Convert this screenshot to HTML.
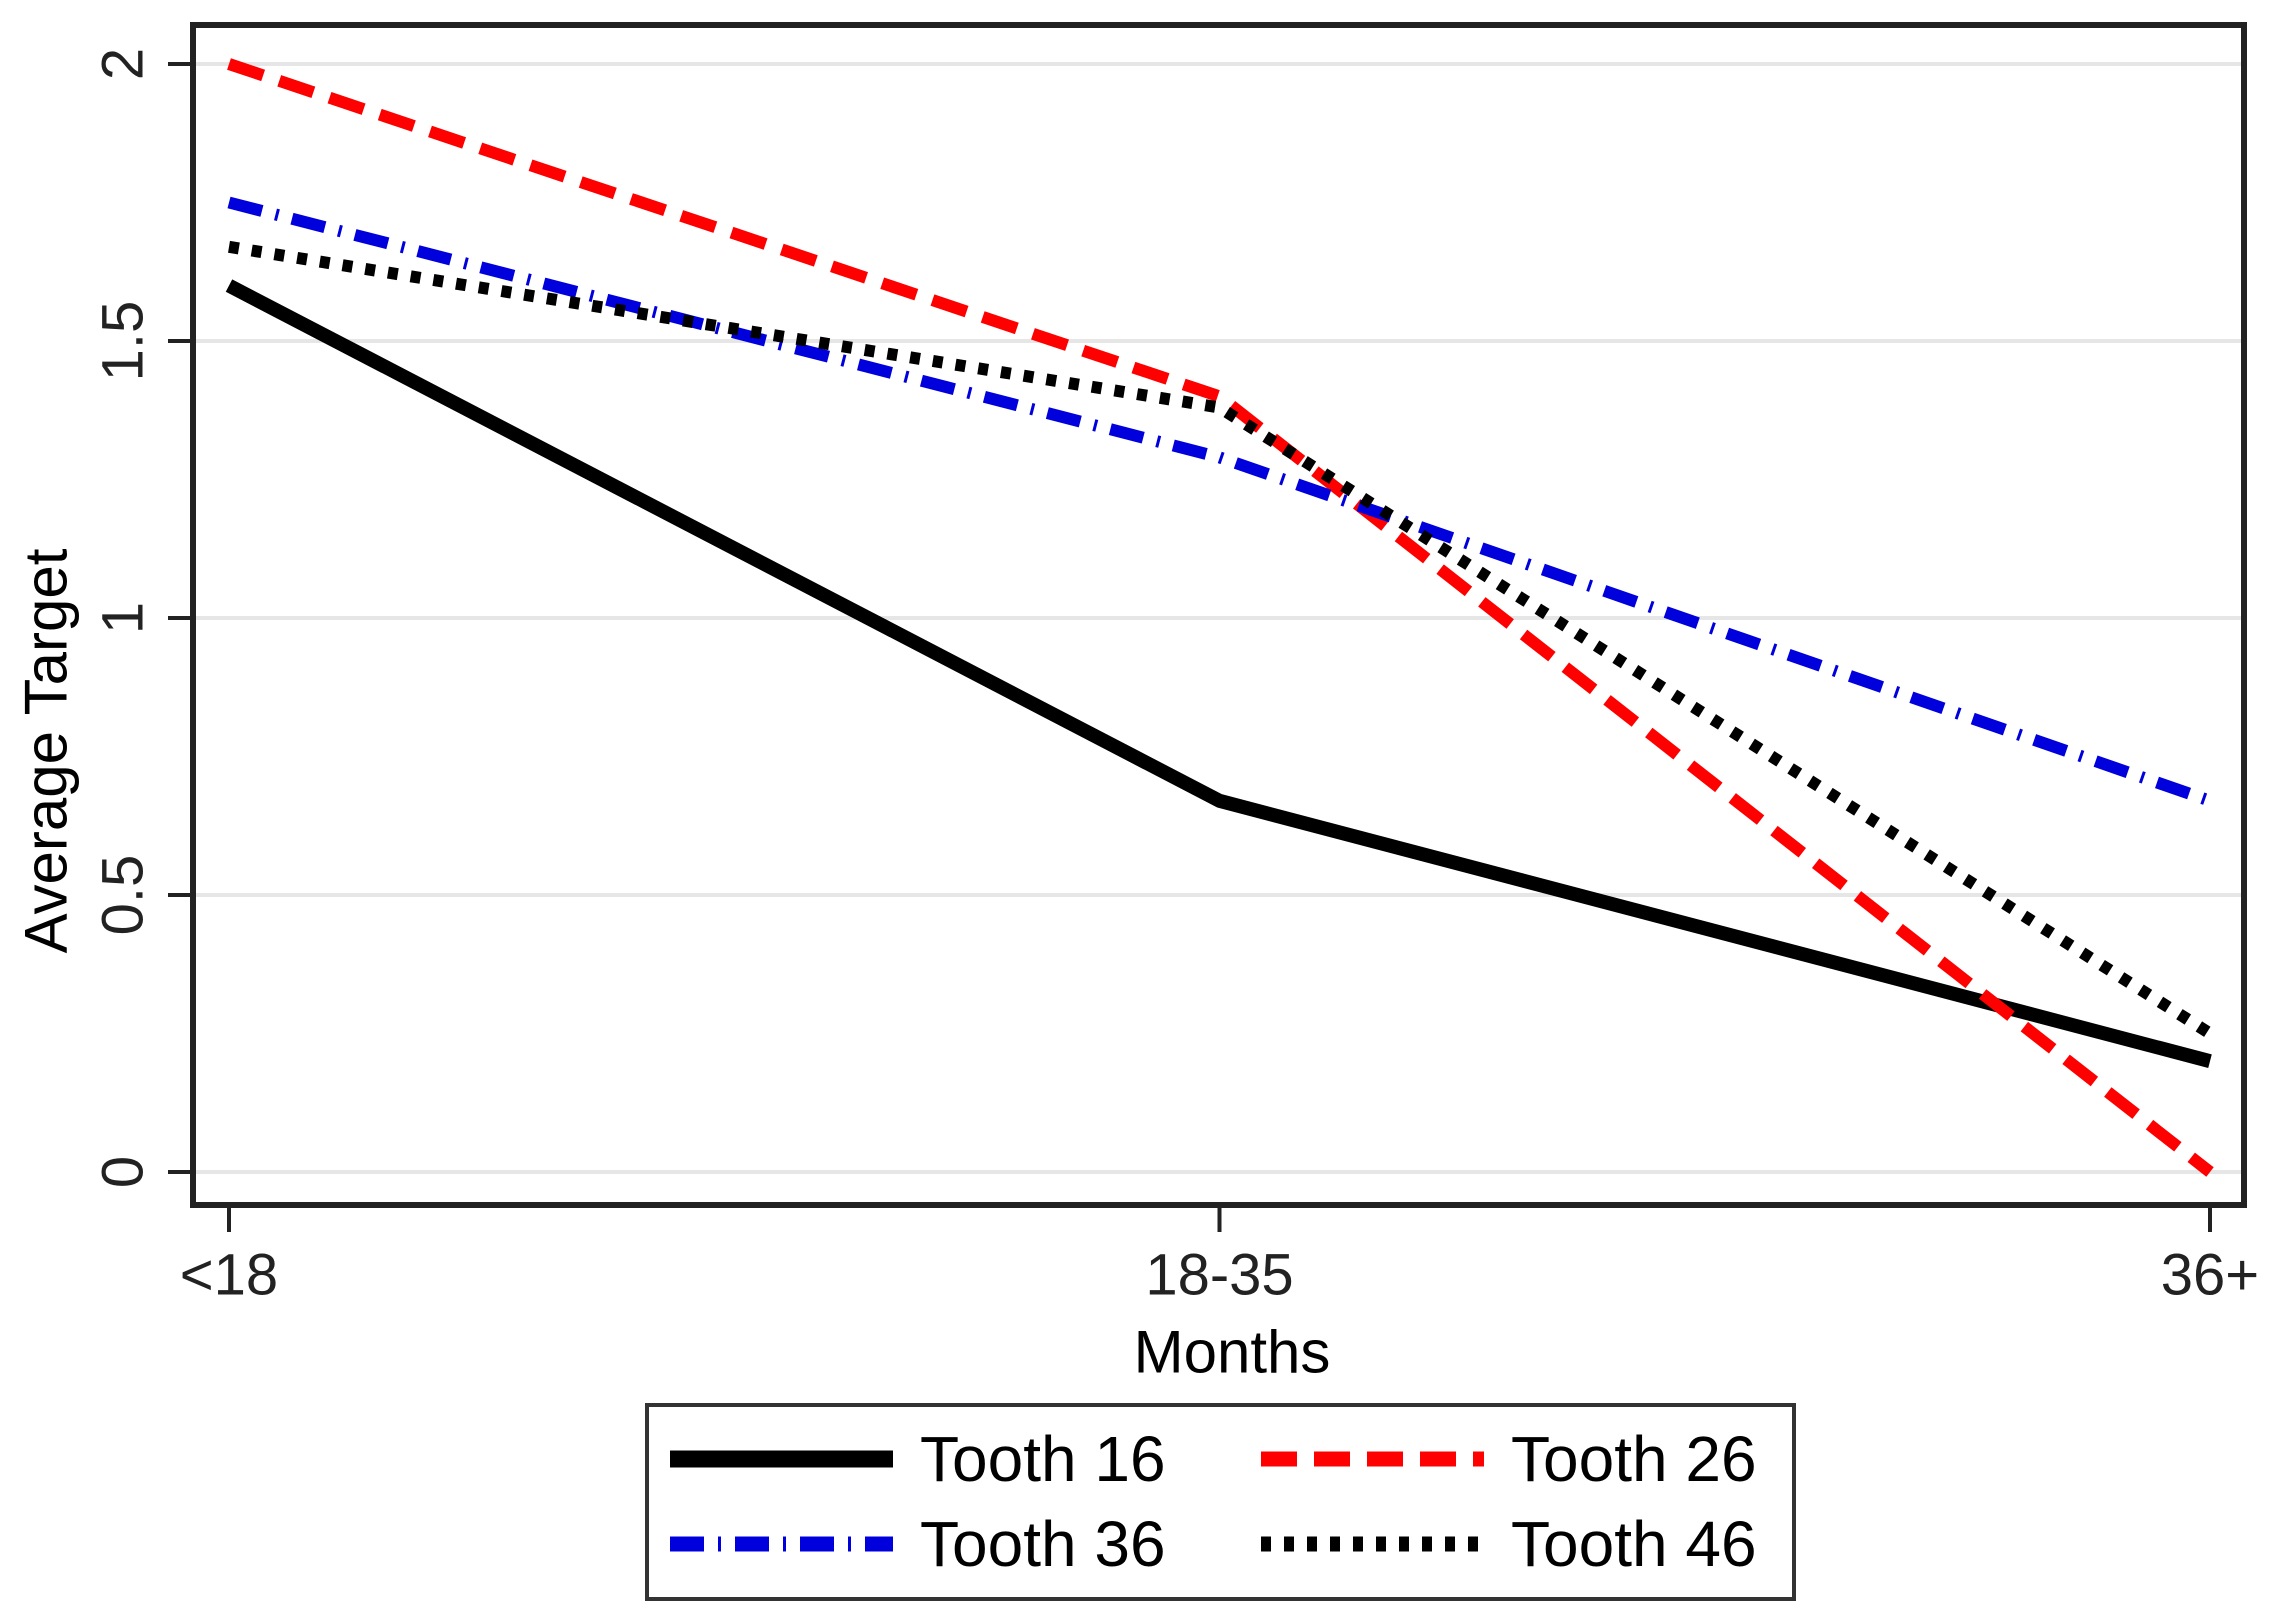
<!DOCTYPE html>
<html><head><meta charset="utf-8"><style>html,body{margin:0;padding:0;background:#fff}svg{display:block}</style></head>
<body>
<svg id="chart" width="2269" height="1623" viewBox="0 0 2269 1623" xmlns="http://www.w3.org/2000/svg" font-family="Liberation Sans, Arial, sans-serif">
<rect x="0" y="0" width="2269" height="1623" fill="#fff"/>
<g id="grid"></g>
<g id="series"></g>
<rect x="193" y="25" width="2051" height="1180" fill="none" stroke="#222" stroke-width="6"/>
<g id="yaxis"></g>
<g id="xaxis"></g>
<text x="46" y="751" font-size="60" text-anchor="middle" dominant-baseline="central" transform="rotate(-90 46 751)">Average Target</text>
<text x="1232" y="1352" font-size="60" text-anchor="middle" dominant-baseline="central">Months</text>
<g>
<rect x="647" y="1405" width="1147" height="194" fill="#fff" stroke="#333" stroke-width="4"/>
<g id="legend-items"></g>
</g>
</svg>
<script>
const categories = ["<18", "18-35", "36+"];
const yTicks = [0, 0.5, 1, 1.5, 2];
const yTickLabels = ["0", "0.5", "1", "1.5", "2"];
const seriesNames = ["Tooth 16", "Tooth 26", "Tooth 36", "Tooth 46"];
const tooth16 = [1.6, 0.67, 0.2];
const tooth26 = [2.0, 1.4, 0.0];
const tooth36 = [1.75, 1.29, 0.67];
const tooth46 = [1.67, 1.38, 0.25];

const NS = "http://www.w3.org/2000/svg";
function xPos(i){ return 229 + i * (2210 - 229) / (categories.length - 1); }
function yPos(v){ return 1172 - v * 554; }
function mk(tag, attrs, parent){ const e = document.createElementNS(NS, tag); for (const k in attrs) e.setAttribute(k, attrs[k]); parent.appendChild(e); return e; }

const styles = [
  {color:"#000", w:14, dash:"", cap:"butt"},
  {color:"#ff0000", w:12, dash:"36 17", cap:"butt"},
  {color:"#0000dd", w:12, dash:"34 14 3 14", cap:"butt"},
  {color:"#000", w:12, dash:"10 13", cap:"butt"}
];
const allSeries = [tooth16, tooth26, tooth36, tooth46];

const grid = document.getElementById('grid');
const yaxis = document.getElementById('yaxis');
yTicks.forEach((t, i) => {
  const gl = mk('line', {x1:196, x2:2241, y1:yPos(t), y2:yPos(t), stroke:"#e6e6e6", "stroke-width":4}, grid);
  
  
  const tk = mk('line', {x1:168, x2:193, y1:yPos(t), y2:yPos(t), stroke:"#222", "stroke-width":4}, yaxis);
  
  
  const lb = mk('text', {x:123, y:yPos(t), "font-size":58, "text-anchor":"middle", "dominant-baseline":"central", transform:`rotate(-90 123 ${yPos(t)})`, fill:"#222"}, yaxis);
  lb.textContent = yTickLabels[i];
  
  
});

const xaxis = document.getElementById('xaxis');
categories.forEach((c, i) => {
  const tk = mk('line', {x1:xPos(i), x2:xPos(i), y1:1205, y2:1232, stroke:"#222", "stroke-width":4}, xaxis);
  
  
  const lb = mk('text', {x:xPos(i), y:1275, "font-size":58, "text-anchor":"middle", "dominant-baseline":"central", fill:"#222"}, xaxis);
  lb.textContent = c;
  
  
});

const sg = document.getElementById('series');
allSeries.forEach((s, k) => {
  const pts = s.map((v, i) => xPos(i) + "," + yPos(v)).join(" ");
  const st = styles[k];
  const pl = mk('polyline', {points:pts, fill:"none", stroke:st.color, "stroke-width":st.w, "stroke-dasharray":st.dash, "stroke-linecap":st.cap, "stroke-linejoin":"round"}, sg);
  
  
});

const lg = document.getElementById('legend-items');
const legPos = [[670, 1459], [1261, 1459], [670, 1544], [1261, 1544]];
seriesNames.forEach((n, k) => {
  const [x, y] = legPos[k];
  const st = styles[k];
  const ln = mk('line', {x1:x, x2:x+223, y1:y, y2:y, stroke:st.color, "stroke-width":st.w + 3, "stroke-dasharray":st.dash}, lg);
  
  
  const tx = mk('text', {x:x+250, y:y, "font-size":64, "dominant-baseline":"central", fill:"#000"}, lg);
  tx.textContent = n;
  
  
});
</script>
</body></html>
